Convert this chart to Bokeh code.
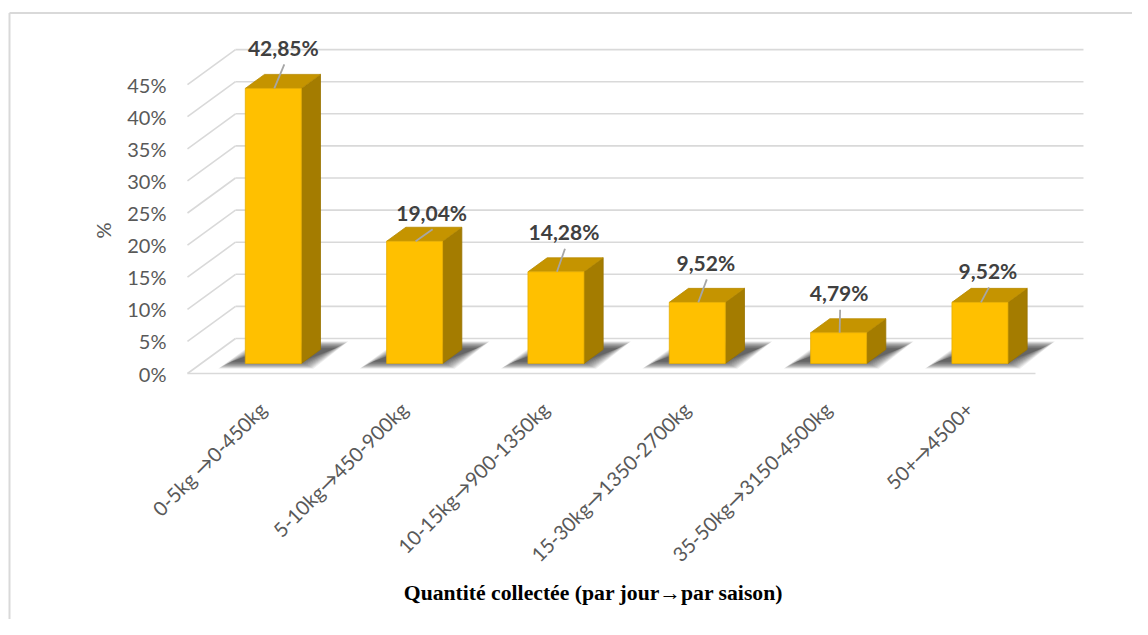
import math
from bokeh.plotting import figure
from bokeh.models import Range1d
from bokeh.core.properties import value
from bokeh.embed import file_html
from bokeh.resources import INLINE

# ---------------- data ----------------
categories = ["0-5kg →0-450kg", "5-10kg→450-900kg", "10-15kg→900-1350kg",
              "15-30kg→1350-2700kg", "35-50kg→3150-4500kg", "50+→4500+"]
values = [42.85, 19.04, 14.28, 9.52, 4.79, 9.52]
value_labels = ["42,85%", "19,04%", "14,28%", "9,52%", "4,79%", "9,52%"]
y_ticks = [0, 5, 10, 15, 20, 25, 30, 35, 40, 45]
y_tick_labels = ["0%", "5%", "10%", "15%", "20%", "25%", "30%", "35%", "40%", "45%"]
x_title = "Quantité collectée (par jour→par saison)"
y_title = "%"

# ---------------- layout (pixels) ----------------
W_PX, H_PX = 1132, 619
PX_X = 141.33          # pixels per category slot
PX_Y = 6.42            # pixels per percent
ORIGIN_X = 187         # front-left floor corner, in figure pixels
ORIGIN_Y = 373
# manual data label placement (pixel offsets from bar front-left / bar top)
LABEL_DX = [38, 45, 36, 36.5, 28.5, 36]
LABEL_DY = [41, 29, 40, 40, 40, 32]

def px_x(dx):
    return dx / PX_X

def px_y(dy):
    return dy / PX_Y

x0 = -ORIGIN_X / PX_X
x1 = (W_PX - ORIGIN_X) / PX_X
y1 = ORIGIN_Y / PX_Y
y0 = -(H_PX - ORIGIN_Y) / PX_Y

p = figure(width=W_PX, height=H_PX, x_range=Range1d(x0, x1), y_range=Range1d(y0, y1),
           x_axis_location=None, y_axis_location=None, toolbar_location=None,
           output_backend="svg", min_border=0, outline_line_color=None,
           background_fill_color="white", border_fill_color="white")
p.grid.visible = False

n = len(categories)
DX = px_x(48)     # full floor depth offset
DY = px_y(35)
GRID = "#d9d9d9"

# outer chart border (left and top visible)
bx = x0 + px_x(9)
by = y1 - px_y(12.5)
p.segment(x0=[bx, bx], y0=[by, by], x1=[bx, x1], y1=[y0, by], line_color="#d9d9d9", line_width=2)

# back wall gridlines + side-wall diagonals
p.segment(x0=[DX] * len(y_ticks), y0=[v + DY for v in y_ticks],
          x1=[n + DX] * len(y_ticks), y1=[v + DY for v in y_ticks],
          line_color=GRID, line_width=1.6)
p.segment(x0=[0] * len(y_ticks), y0=y_ticks, x1=[DX] * len(y_ticks), y1=[v + DY for v in y_ticks],
          line_color=GRID, line_width=1.6)
# front floor edge
p.segment(x0=[0], y0=[0], x1=[n], y1=[0], line_color=GRID, line_width=1.6)

# bar geometry
BW = px_x(56)
F0 = 0.286
BD = 0.4
bdx, bdy = BD * DX, BD * DY
lefts = [c + 0.5 - BW / 2 + F0 * DX + 0.01 for c in range(n)]
base = F0 * DY

# shadows (many faint layers to fake a soft blur)
sh_xs, sh_ys = [], []
for L in lefts:
    for i in range(14):
        e = 1.0 * i
        pts = [(-14 - e, 2 - e * 0.55), (55 + e, 2 - e * 0.55),
               (90 + e, 15 + e * 0.55), (24 - e, 15 + e * 0.55)]
        sh_xs.append([L + px_x(a) for a, b in pts])
        sh_ys.append([base + px_y(b) for a, b in pts])
p.patches(sh_xs, sh_ys, fill_color="#1a1a1a", fill_alpha=0.075, line_color=None)

front_x, front_y, top_x, top_y, side_x, side_y = [], [], [], [], [], []
for L, v in zip(lefts, values):
    R = L + BW
    yt = base + v
    front_x.append([L, R, R, L]); front_y.append([base, base, yt, yt])
    top_x.append([L, R, R + bdx, L + bdx]); top_y.append([yt, yt, yt + bdy, yt + bdy])
    side_x.append([R, R + bdx, R + bdx, R]); side_y.append([base, base + bdy, yt + bdy, yt])

p.patches(side_x, side_y, fill_color="#A47C00", line_color="#997300", line_width=0.8)
p.patches(top_x, top_y, fill_color="#C59400", line_color="#B88A00", line_width=0.8)
p.patches(front_x, front_y, fill_color="#FFC000", line_color="#E6AD00", line_width=0.8)

# data labels with leader lines
lab_x, lab_y, ld_x0, ld_y0, ld_x1, ld_y1 = [], [], [], [], [], []
for L, v, dx, dy in zip(lefts, values, LABEL_DX, LABEL_DY):
    yt = base + v
    lab_x.append(L + px_x(dx)); lab_y.append(yt + px_y(dy))
    ld_x0.append(L + px_x(dx + 1)); ld_y0.append(yt + px_y(dy - 17))
    ld_x1.append(L + px_x(29)); ld_y1.append(yt)
p.segment(x0=ld_x0, y0=ld_y0, x1=ld_x1, y1=ld_y1, line_color="#a6a6a6", line_width=1.8)
p.text(x=lab_x, y=lab_y, text=value_labels, text_font=value("Lato"), text_font_size=value("21px"),
       text_font_style="bold", text_color="#404040", text_align="center", text_baseline="middle")

# y tick labels
p.text(x=[px_x(-21)] * len(y_ticks), y=y_ticks, text=y_tick_labels, text_font=value("Lato"),
       text_font_size=value("20px"), text_color="#595959", text_align="right", text_baseline="middle")
# y title
p.text(x=[px_x(-85)], y=[px_y(143)], text=[y_title], angle=math.pi / 2, text_font=value("Lato"),
       text_font_size=value("20px"), text_color="#595959", text_align="center", text_baseline="middle")

# x category labels (rotated 45°)
p.text(x=[c + px_x(75) for c in range(n)], y=[px_y(-32)] * n, text=categories, angle=math.pi / 4,
       text_font=value("Lato"), text_font_size=value("20px"), text_color="#595959",
       text_align="right", text_baseline="middle")

# x title
p.text(x=[px_x(593 - 187)], y=[px_y(373 - 592)], text=[x_title], text_font=value("Liberation Serif"),
       text_font_size=value("21.7px"), text_font_style="bold", text_color="black",
       text_align="center", text_baseline="middle")

open("out.html", "w").write(file_html(p, INLINE))
